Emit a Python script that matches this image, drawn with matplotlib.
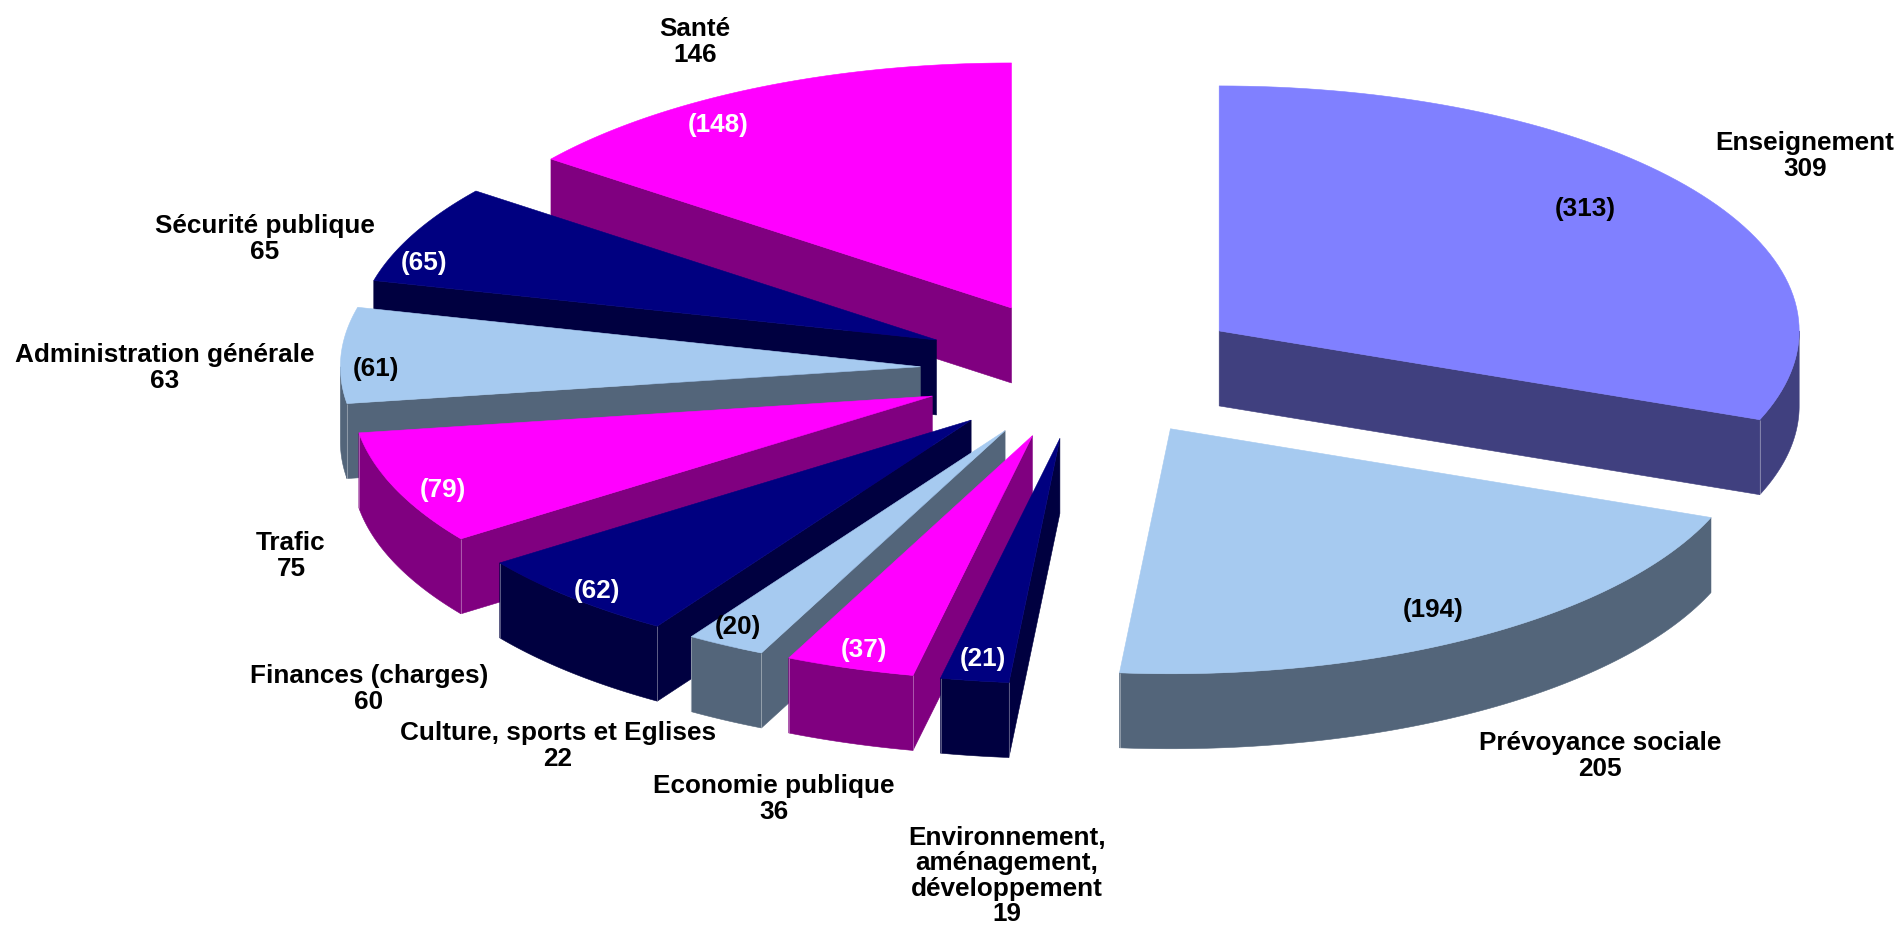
import matplotlib
matplotlib.use('Agg')
import matplotlib.pyplot as plt
from matplotlib.patches import Polygon
import numpy as np

categories = ['Enseignement', 'Prévoyance sociale', 'Environnement,\naménagement,\ndéveloppement',
              'Economie publique', 'Culture, sports et Eglises', 'Finances (charges)', 'Trafic',
              'Administration générale', 'Sécurité publique', 'Santé']
values = [309, 205, 19, 36, 22, 60, 75, 63, 65, 146]
previous = [313, 194, 21, 37, 20, 62, 79, 61, 65, 148]

top_colors = ['#8080FF', '#A6CAF0', '#000080', '#FF00FF', '#A6CAF0', '#000080', '#FF00FF', '#A6CAF0', '#000080', '#FF00FF']
side_colors = ['#40407F', '#53657A', '#000040', '#800080', '#53657A', '#000040', '#800080', '#53657A', '#000040', '#800080']
prev_colors = ['black', 'black', 'white', 'white', 'black', 'white', 'white', 'black', 'white', 'white']

# where the texts go, in pixels of the image
name_xy = [(1805, 156), (1600, 756), (1007, 876), (774, 799), (558, 746), (369, 689), (291, 556), (165, 368), (265, 239), (695, 42)]
prev_xy = [(1585, 209), (1433, 610), (983, 659), (864, 650), (738, 627), (597, 591), (443, 490), (376, 369), (424, 263), (718, 125)]

W, H = 1903, 938
cx, cy = 1084, 370
rx, ry = 580, 245
depth = 75
explode = 0.2824

plt.rcParams['font.family'] = ['Liberation Sans', 'DejaVu Sans']
fig = plt.figure(figsize=(W / 100, H / 100), dpi=100)
ax = fig.add_axes([0, 0, 1, 1])
ax.set_xlim(0, W)
ax.set_ylim(H, 0)
ax.axis('off')


def rim(ox, oy, a, b, n=80):
    # points on the ellipse, angles in degrees clockwise from 12 o'clock
    t = np.radians(np.linspace(a, b, n))
    return np.column_stack([ox + rx * np.sin(t), oy - ry * np.cos(t)])


def face(pts, color, z):
    ax.add_patch(Polygon(pts, closed=True, facecolor=color, edgecolor=color, lw=0.4, zorder=z))


def edge(p, color, z):
    ax.plot([p[0], p[0]], [p[1], p[1] + depth], color=color, lw=0.7, alpha=0.35, zorder=z, solid_capstyle='butt')


edges = np.cumsum([0] + values) / sum(values) * 360
order = [9, 8, 7, 6, 5, 4, 3, 2, 0, 1]

for z, i in enumerate(order):
    a, b = edges[i], edges[i + 1]
    mid = np.radians((a + b) / 2)
    ox = cx + explode * rx * np.sin(mid)
    oy = cy - explode * ry * np.cos(mid)
    apex = np.array([ox, oy])
    down = np.array([0, depth])
    arc = rim(ox, oy, a, b)
    base = z * 3

    # the cut faces that look towards the viewer
    if 0 < b < 180:
        face([apex, arc[-1], arc[-1] + down, apex + down], side_colors[i], base)
    if 180 < a < 360:
        face([apex, arc[0], arc[0] + down, apex + down], side_colors[i], base)

    # the outer wall, front half of the ellipse only
    lo, hi = max(a, 90), min(b, 270)
    if lo < hi:
        front = rim(ox, oy, lo, hi)
        face(np.vstack([front, (front + down)[::-1]]), side_colors[i], base + 1)
        if 90 < a < 270:
            edge(arc[0], 'white', base + 1)
        if 90 < b < 270:
            edge(arc[-1], 'white', base + 1)

    face(np.vstack([apex, arc]), top_colors[i], base + 2)

for i in range(len(values)):
    ax.text(*name_xy[i], f'{categories[i]}\n{values[i]}', ha='center', va='center', fontsize=18.8,
            fontweight='bold', color='black', linespacing=1.07, zorder=100)
    ax.text(*prev_xy[i], f'({previous[i]})', ha='center', va='center', fontsize=18.8,
            fontweight='bold', color=prev_colors[i], zorder=100)

fig.savefig('out.png', dpi=100)
